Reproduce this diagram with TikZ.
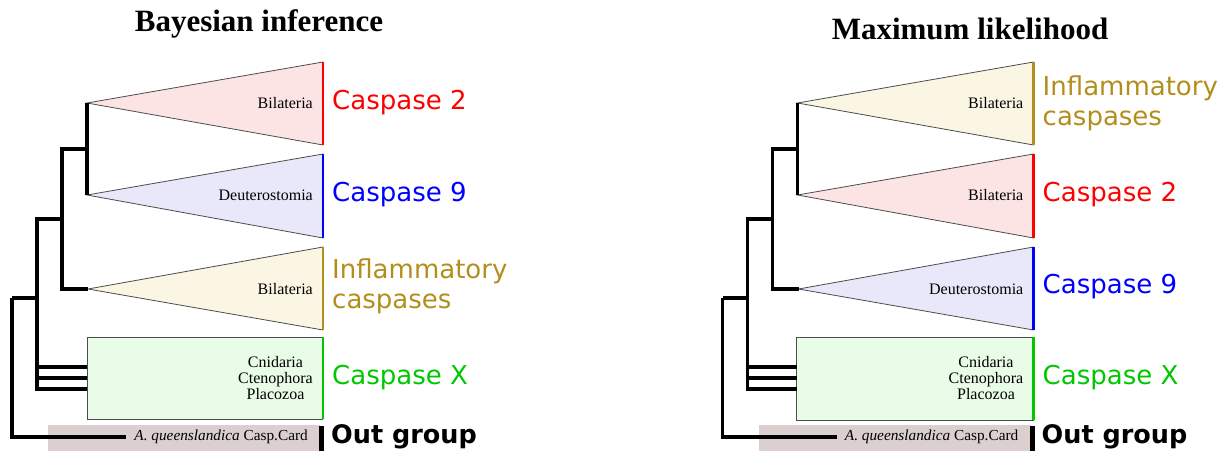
\documentclass[tikz,border=0pt]{standalone}
\usepackage{fontspec}
\setmainfont{Liberation Serif}
\newfontfamily\verd{DejaVu Sans}
\definecolor{pinkf}{HTML}{FCE4E4}
\definecolor{bluef}{HTML}{E8E8FA}
\definecolor{creamf}{HTML}{FBF5E3}
\definecolor{greenf}{HTML}{E8FCE8}
\definecolor{gold}{HTML}{B28E1C}
\definecolor{grn}{HTML}{00C800}
\definecolor{band}{HTML}{DCCFCF}
\tikzset{
  branch/.style={line width=3.2pt, line join=miter},
  triline/.style={line width=0.8pt, draw=black!70},
  edgebar/.style={line width=2.8pt},
  inner/.style={font=\fontsize{16}{16}\selectfont, anchor=east, inner sep=0pt},
  grp/.style={font=\verd\fontsize{26}{30}\selectfont, anchor=west, inner sep=0pt, align=left},
  outg/.style={font=\verd\bfseries\fontsize{25.5}{28}\selectfont, anchor=west, inner sep=0pt},
  ttl/.style={font=\bfseries\fontsize{31}{34}\selectfont, inner sep=0pt, anchor=base},
}
\begin{document}
\begin{tikzpicture}[x=1pt,y=-1pt]
\useasboundingbox (0,0) rectangle (1230,452);
% titles
\node[ttl] (t1) at (259,32) {Bayesian inference};
\node[ttl] (t2) at (970,40) {Maximum likelihood};

% ---------- LEFT TREE ----------
\begin{scope}
\fill[pinkf] (87,103) -- (323,62) -- (323,145) -- cycle;
\draw[triline] (323,62) -- (87,103) -- (323,145);
\draw[edgebar, red] (323,62) -- (323,145);
\fill[bluef] (87,195) -- (323,154) -- (323,238) -- cycle;
\draw[triline] (323,154) -- (87,195) -- (323,238);
\draw[edgebar, blue] (323,154) -- (323,238);
\fill[creamf] (88,289) -- (323,247) -- (323,330) -- cycle;
\draw[triline] (323,247) -- (88,289) -- (323,330);
\draw[edgebar, gold] (323,247) -- (323,330);
\fill[greenf] (87,337) rectangle (323,419);
\draw[triline] (323,337) -- (87,337) -- (87,419) -- (323,419);
\draw[edgebar, grn] (323,337) -- (323,419);
\fill[band] (48,425) rectangle (320,451);
\draw[line width=5pt] (321.5,426) -- (321.5,451);

\node[inner] (lb1) at (313,103) {Bilateria};
\node[inner] (lb2) at (313,195) {Deuterostomia};
\node[inner] (lb3) at (313,289) {Bilateria};
\node[inner, align=center] (lb4) at (313,378) {Cnidaria\\Ctenophora\\Placozoa};
\node[inner, font=\fontsize{15.3}{16}\selectfont, inner xsep=8pt] (og) at (316,437) {\textit{A. queenslandica} Casp.Card};

\node[grp, red] (g1) at (332,103) {Caspase 2};
\node[grp, blue] (g2) at (332,195) {Caspase 9};
\node[grp, gold] (g3) at (332,286) {Inflammatory\\caspases};
\node[grp, grn] (g4) at (332,378) {Caspase X};
\node[outg] (g5) at (331,437) {Out group};

\coordinate (a1) at (87,103);
\coordinate (a2) at (87,195);
\coordinate (a3) at (88,289);
\coordinate (b1) at (87,367);
\coordinate (b2) at (87,378);
\coordinate (b3) at (87,389);
\coordinate (n4) at (87,149);
\coordinate (n3) at (62,219);
\coordinate (n2) at (37,298);
\coordinate (r) at (12,298);
\draw[branch] (a1) -- (a2);
\draw[branch] (n3) |- (n4);
\draw[branch] (n3) |- (a3);
\draw[branch] (n2) |- (n3);
\draw[branch] (n2) |- (b1);
\draw[branch] (n2) |- (b2);
\draw[branch] (n2) |- (b3);
\draw[branch] (r) -- (n2);
\draw[branch] (r) |- (og.west);
\end{scope}

% ---------- RIGHT TREE ----------
\begin{scope}[xshift=710.5pt]
\fill[creamf] (87,103) -- (323,62) -- (323,145) -- cycle;
\draw[triline] (323,62) -- (87,103) -- (323,145);
\draw[edgebar, gold] (323,62) -- (323,145);
\fill[pinkf] (87,195) -- (323,154) -- (323,238) -- cycle;
\draw[triline] (323,154) -- (87,195) -- (323,238);
\draw[edgebar, red] (323,154) -- (323,238);
\fill[bluef] (88,289) -- (323,247) -- (323,330) -- cycle;
\draw[triline] (323,247) -- (88,289) -- (323,330);
\draw[edgebar, blue] (323,247) -- (323,330);
\fill[greenf] (86,337) rectangle (323,420);
\draw[triline] (323,337) -- (86,337) -- (86,420) -- (323,420);
\draw[edgebar, grn] (323,337) -- (323,420);
\fill[band] (48,425) rectangle (320,451);
\draw[line width=5pt] (321.5,426) -- (321.5,451);

\node[inner] (rb1) at (313,103) {Bilateria};
\node[inner] (rb2) at (313,195) {Bilateria};
\node[inner] (rb3) at (313,289) {Deuterostomia};
\node[inner, align=center] (rb4) at (313,378) {Cnidaria\\Ctenophora\\Placozoa};
\node[inner, font=\fontsize{15.3}{16}\selectfont, inner xsep=8pt] (rog) at (316,437) {\textit{A. queenslandica} Casp.Card};

\node[grp, gold] (h1) at (332,103) {Inflammatory\\caspases};
\node[grp, red] (h2) at (332,195) {Caspase 2};
\node[grp, blue] (h3) at (332,287) {Caspase 9};
\node[grp, grn] (h4) at (332,378) {Caspase X};
\node[outg] (h5) at (331,437) {Out group};

\coordinate (ra1) at (87,103);
\coordinate (ra2) at (87,195);
\coordinate (ra3) at (88,289);
\coordinate (rbx1) at (86,367);
\coordinate (rbx2) at (86,378);
\coordinate (rbx3) at (86,389);
\coordinate (rn4) at (87,149);
\coordinate (rn3) at (62,219);
\coordinate (rn2) at (37,298);
\coordinate (rr) at (12,298);
\draw[branch] (ra1) -- (ra2);
\draw[branch] (rn3) |- (rn4);
\draw[branch] (rn3) |- (ra3);
\draw[branch] (rn2) |- (rn3);
\draw[branch] (rn2) |- (rbx1);
\draw[branch] (rn2) |- (rbx2);
\draw[branch] (rn2) |- (rbx3);
\draw[branch] (rr) -- (rn2);
\draw[branch] (rr) |- (rog.west);
\end{scope}
\end{tikzpicture}
\end{document}
